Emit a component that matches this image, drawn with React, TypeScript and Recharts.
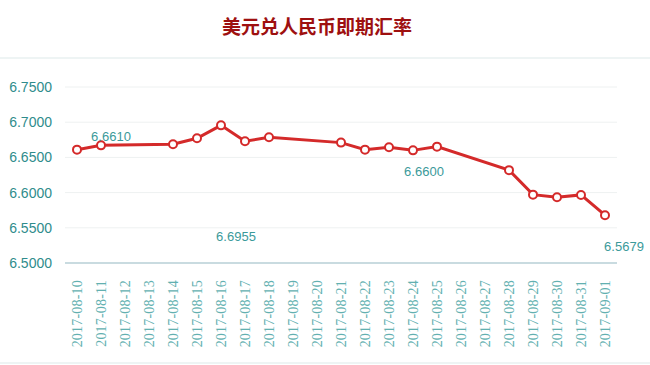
import React from 'react';
import { LineChart, Line, XAxis, YAxis, CartesianGrid, ReferenceDot } from 'recharts';

const dates = [
  '2017-08-10', '2017-08-11', '2017-08-12', '2017-08-13', '2017-08-14', '2017-08-15',
  '2017-08-16', '2017-08-17', '2017-08-18', '2017-08-19', '2017-08-20', '2017-08-21',
  '2017-08-22', '2017-08-23', '2017-08-24', '2017-08-25', '2017-08-26', '2017-08-27',
  '2017-08-28', '2017-08-29', '2017-08-30', '2017-08-31', '2017-09-01',
];
const rates: (number | null)[] = [
  6.6610, 6.6671, null, null, 6.6686, 6.6771,
  6.6955, 6.6729, 6.6786, null, null, 6.6710,
  6.6610, 6.6643, 6.6600, 6.6653, null, null,
  6.6319, 6.5971, 6.5933, 6.5967, 6.5679,
];
const yTicks = [6.5, 6.55, 6.6, 6.65, 6.7, 6.75];

// annotation labels: attached to a data point, text shown offset from it
const noteDates = ['2017-08-11', '2017-08-16', '2017-08-24', '2017-09-01'];
const noteTexts = ['6.6610', '6.6955', '6.6600', '6.5679'];
const noteOffsets = [[10, -9], [15, 111], [11, 21], [19, 31]];

const data = dates.map((d, i) => ({ date: d, rate: rates[i] }));

const TEAL = '#3b9a9a';

const XTick = (props: any) => {
  const { x, y, payload } = props;
  return (
    <text
      x={x}
      y={y + 9}
      transform={`rotate(-90, ${x}, ${y + 9})`}
      textAnchor="end"
      dy="0.35em"
      fill="#62b0b0"
      fontFamily="'Liberation Serif', serif"
      fontSize={14}
      letterSpacing={0.2}
    >
      {payload.value}
    </text>
  );
};

const NoteLabel = (text: string, dx: number, dy: number) => (props: any) => {
  const vb = props.viewBox || {};
  const cx = vb.x + (vb.width || 0) / 2;
  const cy = vb.y + (vb.height || 0) / 2;
  return (
    <text
      x={cx + dx}
      y={cy + dy}
      textAnchor="middle"
      dominantBaseline="central"
      fill={TEAL}
      fontFamily="'Liberation Sans', Arial, sans-serif"
      fontSize={13}
    >
      {text}
    </text>
  );
};

export default function App() {
  return (
    <div style={{ position: 'absolute', left: 0, top: 0, width: 650, height: 365, background: '#fff' }}>
      <div
        style={{
          position: 'absolute', left: 0, top: 13, width: 634, textAlign: 'center',
          fontFamily: "'Noto Sans CJK SC', sans-serif", fontWeight: 'bold', fontSize: 19,
          color: '#9e1010', lineHeight: '26px',
        }}
      >
        美元兑人民币即期汇率
      </div>
      <div style={{ position: 'absolute', left: 0, top: 57, width: 650, height: 2, background: '#eef4f4' }} />
      <div style={{ position: 'absolute', left: 0, top: 362, width: 650, height: 2, background: '#eef4f4' }} />
      <div style={{ position: 'absolute', left: 0, top: 0 }}>
        <LineChart
          width={650}
          height={365}
          data={data}
          margin={{ top: 87, right: 33, bottom: 0, left: 0 }}
        >
          <CartesianGrid vertical={false} stroke="#eef1f1" strokeWidth={1} />
          <XAxis
            dataKey="date"
            interval={0}
            height={102}
            padding={{ left: 12, right: 12 }}
            tick={<XTick />}
            tickLine={false}
            axisLine={{ stroke: '#c9dbe0', strokeWidth: 2 }}
          />
          <YAxis
            domain={[6.5, 6.75]}
            ticks={yTicks}
            width={65}
            axisLine={false}
            tickLine={false}
            tickSize={0}
            tickMargin={13}
            tickFormatter={(v: number) => v.toFixed(4)}
            tick={{ fill: '#2f8c8c', fontSize: 14, fontFamily: "'Liberation Sans', Arial, sans-serif" }}
          />
          <Line
            type="linear"
            dataKey="rate"
            stroke="#d42a2a"
            strokeWidth={3}
            connectNulls
            dot={{ r: 4, fill: '#fff', stroke: '#d42a2a', strokeWidth: 2 }}
            isAnimationActive={false}
          />
          {noteDates.map((d, i) => (
            <ReferenceDot
              key={d}
              x={d}
              y={rates[dates.indexOf(d)] as number}
              r={0}
              fill="none"
              stroke="none"
              label={NoteLabel(noteTexts[i], noteOffsets[i][0], noteOffsets[i][1])}
            />
          ))}
        </LineChart>
      </div>
    </div>
  );
}
